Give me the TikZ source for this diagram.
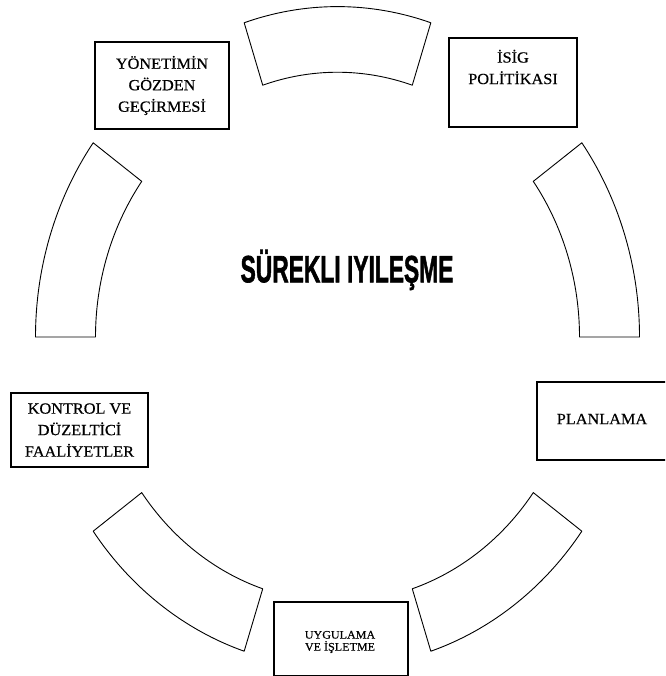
\documentclass[tikz,border=0pt]{standalone}
\usepackage{graphicx}
\usepackage{fontspec}
\setmainfont{Liberation Serif}[FakeStretch=1.05, FakeBold=0.5]
\newfontfamily\bigfont{Liberation Sans}[FakeBold=1.8]
\tikzset{
  seg/.style={draw=black, line width=0.9pt, fill=white, line join=round},
  box/.style={draw=black, line width=1.1pt, fill=white},
  lbl/.style={align=center, inner sep=0pt, font=\fontsize{15.5}{21.5}\selectfont},
}
\begin{document}
\begin{tikzpicture}[x=1pt,y=1pt]
\useasboundingbox (0,0) rectangle (665,676);
\clip (0,0) rectangle (665,676);
\fill[white] (0,0) rectangle (665,676);
% ring segments (circle stretched vertically)
\begin{scope}[shift={(337.5,339)}, yscale=1.094]
  \foreach \a in {0,72,144,216,288}{
    \pgfmathsetmacro{\b}{\a+36}
    \draw[seg] (\a:302pt) arc[start angle=\a, end angle=\b, radius=302pt]
      -- (\b:242pt) arc[start angle=\b, end angle=\a, radius=242pt] -- cycle;
  }
\end{scope}
% boxes
\node[box, minimum width=134pt, minimum height=87pt] (yon) at (162,676-85.5) {};
\node[lbl] (yont) at (yon.center) {YÖNETİMİN\\GÖZDEN\\GEÇİRMESİ};
\node[box, minimum width=128pt, minimum height=89pt] (isig) at (513,676-82.5) {};
\node[lbl] (isigt) at (513,676-67) {İSİG\\POLİTİKASI};
\node[box, minimum width=137pt, minimum height=74pt] (kon) at (79.5,676-430) {};
\node[lbl] (kont) at (kon.center) {KONTROL VE\\DÜZELTİCİ\\FAALİYETLER};
\node[box, minimum width=131pt, minimum height=78pt] (plan) at (602.5,676-421) {};
\node[lbl] (plant) at (602,676-419) {PLANLAMA};
\node[box, minimum width=134pt, minimum height=74pt] (uyg) at (341,676-639) {};
\node[lbl, font=\fontsize{11.5}{12}\selectfont] (uygt) at (340,676-642) {UYGULAMA\\VE İŞLETME};
% centre title
\node[inner sep=0pt] (title) at (347,676-270)
  {\scalebox{0.6}[1]{\bigfont\bfseries\fontsize{38}{38}\selectfont SÜREKLI IYILEŞME}};
\end{tikzpicture}
\end{document}
